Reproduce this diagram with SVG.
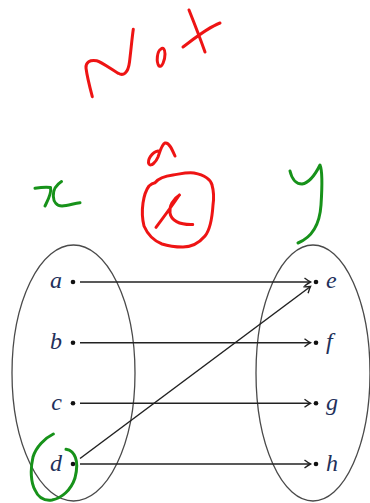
<svg xmlns="http://www.w3.org/2000/svg" width="370" height="503" viewBox="0 0 370 503">
<style>
.set{fill:none;stroke:#4a4a4a;stroke-width:1.3}
.dot{fill:#111}
.lbl{font-family:"Liberation Serif",serif;font-style:italic;font-size:24px;fill:#22305a}
.edge{fill:none;stroke:#222;stroke-width:1.5}
.red{fill:none;stroke:#ee1414;stroke-width:3;stroke-linecap:round;stroke-linejoin:round}
.grn{fill:none;stroke:#17921a;stroke-width:3;stroke-linecap:round;stroke-linejoin:round}
</style>
<defs>
<marker id="arr" markerWidth="10" markerHeight="10" refX="0" refY="0" viewBox="-7 -5 8 10" markerUnits="userSpaceOnUse" orient="auto">
<path d="M-6,-4 Q-2,-1 0,0 Q-2,1 -6,4" fill="none" stroke="#222" stroke-width="1.4"/>
</marker>
</defs>
<rect width="370" height="503" fill="#fff"/>
<g id="setX"><ellipse class="set" cx="73.5" cy="373" rx="61.5" ry="128"/></g>
<g id="setY"><ellipse class="set" cx="313" cy="373" rx="57" ry="128"/></g>
<g id="node-a"><circle class="dot" cx="73" cy="282" r="2.3"/><text class="lbl" x="62" y="288" text-anchor="end">a</text></g>
<g id="node-b"><circle class="dot" cx="73" cy="342.7" r="2.3"/><text class="lbl" x="62" y="348.5" text-anchor="end">b</text></g>
<g id="node-c"><circle class="dot" cx="73" cy="403.3" r="2.3"/><text class="lbl" x="62" y="409.5" text-anchor="end">c</text></g>
<g id="node-d"><circle class="dot" cx="73" cy="464" r="2.3"/><text class="lbl" x="62" y="470.5" text-anchor="end">d</text></g>
<g id="node-e"><circle class="dot" cx="316" cy="282" r="2.3"/><text class="lbl" x="326" y="288">e</text></g>
<g id="node-f"><circle class="dot" cx="316" cy="342.7" r="2.3"/><text class="lbl" x="326" y="348.5">f</text></g>
<g id="node-g"><circle class="dot" cx="316" cy="403.3" r="2.3"/><text class="lbl" x="326" y="409.5">g</text></g>
<g id="node-h"><circle class="dot" cx="316" cy="464" r="2.3"/><text class="lbl" x="326" y="470.5">h</text></g>
<g id="connectors">
<line class="edge" x1="80" y1="282" x2="310.5" y2="282" marker-end="url(#arr)"/>
<line class="edge" x1="80" y1="342.7" x2="310.5" y2="342.7" marker-end="url(#arr)"/>
<line class="edge" x1="80" y1="403.3" x2="310.5" y2="403.3" marker-end="url(#arr)"/>
<line class="edge" x1="80" y1="464" x2="310.5" y2="464" marker-end="url(#arr)"/>
<line class="edge" x1="80" y1="458.5" x2="310.5" y2="286.5" marker-end="url(#arr)"/>
</g>
<g id="annotations">
<path class="red" d="M92.3,96.7 C90,88 87,76 86,68 C85.5,62 90,59.5 96.7,60.7 C102,62 112,70 118.3,73.3 C123,76 128,74 129.5,62 C131,50 132,38 133.3,29.3"/>
<path class="red" d="M161,49 C157,51 156,62 159,66 C162,68 165,60 165,54 C165,49 163,47 161,49"/>
<path class="red" d="M189,10 C195,25 200,38 205,52 M183,47 C195,38 207,28 220,23"/>
<path class="red" d="M158,151 C152,152 147,160 149,164 C151,167 156,162 158,157 C160,151 162,144 165,143 C169,142 172,149 175,156"/>
<path class="red" d="M155,182.7 C158,179 165,176 173,175 C180,174 187,172 194,173 C205,175 211,180 212,185 C214,192 214,198 213,205 C212,220 210,230 205,236 C199,243 191,247 183,247 C175,247 168,246 162,244 C152,240 147,233 144,226 C142,218 142,210 143,203 C144,196 146,190 149,186 C151,184 153,183 155,182.7"/>
<path class="red" d="M156,227.3 C163,218 172,206 179.3,195 M179.5,195 C173,199 169,206 170,213 C171,220 179,225 192.7,224.5"/>
<path class="grn" d="M35,188.3 C40,187.5 46,187 50.5,187.5 C52,193 48,200 45,206 M61.5,181.5 C56,185 53,190 53.3,196 C53.5,202 57,206 62,206 C68,205.5 74,203.5 80,202.7"/>
<path class="grn" d="M290,171 C292,180 297,184 302,184 C309,183 315,175 320,165 C323,172 322,190 321,205 C320,220 315,236 298,243"/>
<path class="grn" d="M53.3,434 C45,438 36,447 33,457 C30,470 31,483 35,490 C38,497 44,501 52,500 C62,498 71,490 75,478 C78,466 77,457 72,452 C70,450 68,449.5 66,449.3"/>
</g>
</svg>
